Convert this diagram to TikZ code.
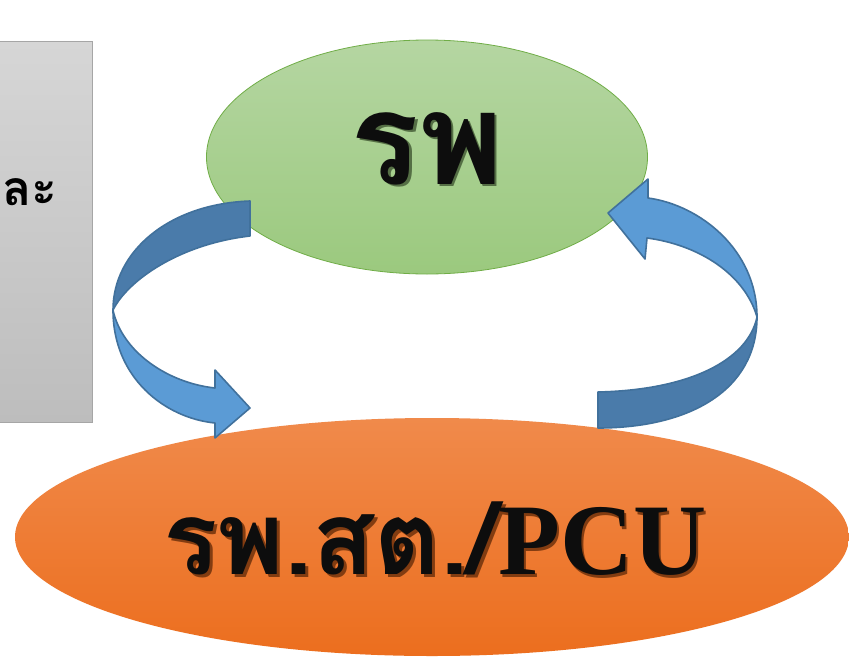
\documentclass[tikz,border=0pt]{standalone}
\usepackage{fontspec}
\newfontfamily\thaifont[Script=Thai]{Loma}
\newfontfamily\pcufont{Liberation Serif}
\usetikzlibrary{shapes.geometric}

\definecolor{boxtop}{HTML}{D6D6D6}
\definecolor{boxbottom}{HTML}{BDBDBD}
\definecolor{boxline}{HTML}{A6A6A6}
\definecolor{greentop}{HTML}{B5D6A2}
\definecolor{greenbottom}{HTML}{9BC97E}
\definecolor{greenline}{HTML}{70AD47}
\definecolor{orangetop}{HTML}{F08A4B}
\definecolor{orangebottom}{HTML}{EC6E1E}
\definecolor{arrowlight}{HTML}{5B9BD5}
\definecolor{arrowdark}{HTML}{4A7BAA}
\definecolor{arrowline}{HTML}{41719C}

\tikzset{
  band/.style={draw=arrowline, line width=1.2pt, line join=round},
  bandlight/.style={band, fill=arrowlight},
  banddark/.style={band, fill=arrowdark},
  hospital/.style={ellipse, minimum width=330.75pt, minimum height=175.5pt,
    top color=greentop, bottom color=greenbottom, draw=greenline, line width=.6pt},
  clinic/.style={ellipse, minimum width=625.5pt, minimum height=178.5pt,
    top color=orangetop, bottom color=orangebottom},
}

\def\shadowlabel#1#2#3#4#5{
  % 1: name
  % 2: x,y
  % 3: font
  % 4: shadow colour
  % 5: text
  \node[text=black!95, font=#3] (#1) at (#2)
    {\rlap{\kern2pt\raisebox{-2pt}{\color{#4}#5}}#5};
}

\begin{document}
\begin{tikzpicture}[x=0.75pt, y=-0.75pt]
  \clip (0,0) rectangle (849,657);
  \fill[white] (0,0) rectangle (849,657);

  % gray box on the left
  \path[top color=boxtop, bottom color=boxbottom, draw=boxline, line width=.6pt]
    (-10,41) rectangle (92,422);
  \node[anchor=west, inner sep=0pt, font=\thaifont\bfseries\fontsize{36}{40}\selectfont] (boxtext) at (2,192) {ละ};

  % the two ellipses
  \node[hospital] (rp) at (427,157) {};
  \node[clinic] (pcu) at (432,537) {};

  % left arrow, rp -> pcu
  \path[banddark] (250,201) .. controls (168,204) and (113,252) .. (113,310)
    .. controls (128,280) and (180,244) .. (250,236) -- cycle;
  \path[bandlight] (113,310) .. controls (113,378) and (165,418) .. (215,423)
    -- (215,438) -- (250,408) -- (215,370) -- (215,388)
    .. controls (168,383) and (122,352) .. (113,310) -- cycle;

  % right arrow, pcu -> rp
  \path[banddark] (598,428) .. controls (690,428) and (757,390) .. (757,317)
    .. controls (748,360) and (690,390) .. (598,392) -- cycle;
  \path[bandlight] (757,317) .. controls (757,250) and (700,205) .. (648,198)
    -- (648,179) -- (608,213) -- (645,259) -- (647,238)
    .. controls (700,245) and (745,275) .. (757,317) -- cycle;

  % labels
  \shadowlabel{rptext}{427,150}{\thaifont\bfseries\fontsize{96}{100}\selectfont}{black!45!greenbottom}{รพ}
  \shadowlabel{pcutext}{435,540}{\bfseries\fontsize{76}{80}\selectfont}{black!45!orangebottom}{{\thaifont รพ.สต./}{\pcufont PCU}}
\end{tikzpicture}
\end{document}
